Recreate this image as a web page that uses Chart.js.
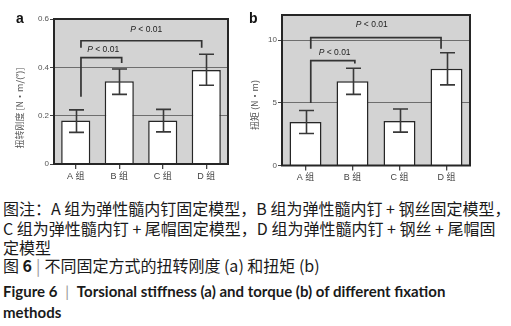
<!DOCTYPE html>
<html>
<head>
<meta charset="utf-8">
<script src="https://cdn.jsdelivr.net/npm/chart.js@4.4.1/dist/chart.umd.min.js"></script>
<style>
  body { margin: 0; width: 511px; height: 326px; background: #fff; position: relative; overflow: hidden; }
  #boxA { position: absolute; left: 0; top: 0; width: 250px; height: 190px; }
  #boxB { position: absolute; left: 250px; top: 0; width: 261px; height: 190px; }
  .tag { position: absolute; font: bold 14px "Liberation Sans", Arial, sans-serif; color: #111; line-height: 14px; }
  .cap { position: absolute; left: 3px; white-space: nowrap; color: #1a1a1a; line-height: 19px;
         font-family: "Noto Sans CJK SC", sans-serif; font-size: 16px; }
  .en { font-family: "Lato", "Liberation Sans", sans-serif; font-weight: bold; font-size: 15px; }
  .bar { color: #999; font-weight: normal; margin: 0 4px; }
</style>
</head>
<body>
<div id="boxA"><canvas id="chartA" width="250" height="190"></canvas></div>
<div id="boxB"><canvas id="chartB" width="261" height="190"></canvas></div>
<div class="tag" style="left:16px;top:11px">a</div>
<div class="tag" style="left:249px;top:11px">b</div>

<div class="cap" style="top:199px">图注：A 组为弹性髓内钉固定模型，B 组为弹性髓内钉 + 钢丝固定模型，</div>
<div class="cap" style="top:219px">C 组为弹性髓内钉 + 尾帽固定模型，D 组为弹性髓内钉 + 钢丝 + 尾帽固</div>
<div class="cap" style="top:238px">定模型</div>
<div class="cap" style="top:256px">图 <b>6</b><span class="bar">|</span>不同固定方式的扭转刚度 (a) 和扭矩 (b)</div>
<div class="cap en" style="top:282px">Figure 6<span class="bar">&nbsp;|&nbsp;</span>Torsional stiffness (a) and torque (b) of different fixation</div>
<div class="cap en" style="top:303px">methods</div>

<script>
const groups = ["A 组", "B 组", "C 组", "D 组"];

// panel a: torsional stiffness
const stiffMean = [0.18, 0.342, 0.18, 0.389];
const stiffLow = [0.131, 0.288, 0.133, 0.326];
const stiffHigh = [0.224, 0.393, 0.226, 0.454];
const stiffTicks = [0, 0.2, 0.4, 0.6];

// panel b: torque
const torqueMean = [3.46, 6.71, 3.54, 7.71];
const torqueLow = [2.55, 5.67, 2.66, 6.43];
const torqueHigh = [4.39, 7.76, 4.5, 8.99];
const torqueTicks = [0, 5, 10];

// significance brackets (category index / value units)
const stiffBrackets = [
  { x0: 0.12, x1: 1.056, top: 0.44, foot0: 0.278, foot1: 0.418, tx: 0.63, ty: 0.473, text: "< 0.01" },
  { x0: 0.12, x1: 2.895, top: 0.51, foot0: 0.481, foot1: 0.481, tx: 1.62, ty: 0.556, text: "< 0.01" },
];
const torqueBrackets = [
  { x0: 0.112, x1: 1.05, top: 8.37, foot0: 4.98, foot1: 8.13, tx: 0.62, ty: 8.99, text: "< 0.01" },
  { x0: 0.112, x1: 2.884, top: 10.19, foot0: 9.31, foot1: 9.31, tx: 1.41, ty: 11.2, text: "< 0.01" },
];

const decorPlugin = {
  id: "decor",
  beforeDraw(chart) {
    const { ctx, chartArea: a } = chart;
    ctx.save();
    ctx.fillStyle = "#d3d3d3";
    ctx.fillRect(a.left, a.top, a.right - a.left, a.bottom - a.top);
    ctx.restore();
  },
  afterDatasetsDraw(chart, args, opts) {
    const { ctx, chartArea: a } = chart;
    const xs = chart.scales.x;
    const ys = chart.scales.y;
    ctx.save();

    // error bars
    ctx.strokeStyle = "#383838";
    ctx.lineWidth = 1.6;
    opts.low.forEach((lo, i) => {
      const x = Math.round(xs.getPixelForValue(i)) + 0.5;
      const y0 = ys.getPixelForValue(lo);
      const y1 = ys.getPixelForValue(opts.high[i]);
      ctx.beginPath();
      ctx.moveTo(x, y0); ctx.lineTo(x, y1);
      ctx.moveTo(x - 7.5, y0); ctx.lineTo(x + 7.5, y0);
      ctx.moveTo(x - 7.5, y1); ctx.lineTo(x + 7.5, y1);
      ctx.stroke();
    });

    // brackets
    ctx.strokeStyle = "#333";
    ctx.lineWidth = 1.7;
    opts.brackets.forEach((b) => {
      const x0 = xs.getPixelForValue(b.x0);
      const x1 = xs.getPixelForValue(b.x1);
      ctx.beginPath();
      ctx.moveTo(x0, ys.getPixelForValue(b.foot0));
      ctx.lineTo(x0, ys.getPixelForValue(b.top));
      ctx.lineTo(x1, ys.getPixelForValue(b.top));
      ctx.lineTo(x1, ys.getPixelForValue(b.foot1));
      ctx.stroke();

      const tx = xs.getPixelForValue(b.tx);
      const ty = ys.getPixelForValue(b.ty);
      ctx.textBaseline = "middle";
      ctx.fillStyle = "#222";
      ctx.font = "italic 8.5px 'Liberation Sans', Arial, sans-serif";
      const wP = ctx.measureText("P").width;
      ctx.font = "8.5px 'Liberation Sans', Arial, sans-serif";
      const wT = ctx.measureText(" " + b.text).width;
      const start = tx - (wP + wT) / 2;
      ctx.textAlign = "left";
      ctx.font = "italic 8.5px 'Liberation Sans', Arial, sans-serif";
      ctx.fillText("P", start, ty);
      ctx.font = "8.5px 'Liberation Sans', Arial, sans-serif";
      ctx.fillText(" " + b.text, start + wP, ty);
    });

    // frame
    ctx.strokeStyle = "#262626";
    ctx.lineWidth = 2;
    ctx.strokeRect(a.left, a.top, a.right - a.left, a.bottom - a.top);

    // y title
    ctx.translate(opts.titleX, opts.titleY);
    ctx.rotate(-Math.PI / 2);
    ctx.textAlign = "center";
    ctx.textBaseline = "middle";
    ctx.fillStyle = "#555";
    ctx.font = "9px 'Noto Sans CJK SC', sans-serif";
    ctx.fillText(opts.title, 0, 0);
    ctx.restore();
  },
};

const makeChart = (id, means, low, high, ticks, max, brackets, geo) => {
  return new Chart(document.getElementById(id), {
    type: "bar",
    data: {
      labels: groups,
      datasets: [
        {
          data: means,
          backgroundColor: "#ffffff",
          borderColor: "#262626",
          borderWidth: 1.5,
          categoryPercentage: 1,
          barPercentage: geo.barPct,
        },
      ],
    },
    options: {
      responsive: false,
      animation: false,
      devicePixelRatio: 1,
      layout: { padding: { left: 0, right: geo.right, top: geo.top, bottom: 0 } },
      plugins: {
        legend: { display: false },
        tooltip: { enabled: false },
        decor: { low: low, high: high, brackets: brackets, title: geo.title, titleX: geo.titleX, titleY: geo.titleY },
      },
      scales: {
        x: {
          afterFit: (s) => { s.height = geo.xHeight; },
          border: { display: false },
          grid: { offset: false, drawOnChartArea: false, tickLength: 5, tickColor: "#444", lineWidth: 1.3 },
          ticks: { color: "#444", padding: 2, font: { size: 9, family: "'Liberation Sans', 'Noto Sans CJK SC', sans-serif" } },
        },
        y: {
          min: 0,
          max: max,
          afterFit: (s) => { s.width = geo.yWidth; },
          afterBuildTicks: (s) => { s.ticks = ticks.map((v) => ({ value: v })); },
          border: { display: false },
          grid: {
            color: (c) => (c.tick && c.tick.value > 0 && c.tick.value < max ? "#6e6e6e" : "rgba(0,0,0,0)"),
            tickColor: "#444",
            tickLength: 4,
            lineWidth: 1,
          },
          ticks: { color: "#555", padding: 1, font: { size: 8, family: "'Liberation Sans', Arial, sans-serif" } },
        },
      },
    },
    plugins: [decorPlugin],
  });
};

makeChart("chartA", stiffMean, stiffLow, stiffHigh, stiffTicks, 0.6, stiffBrackets, {
  barPct: 0.67, right: 22, top: 19, xHeight: 26, yWidth: 54,
  title: "扭转刚度 [N•m/(°)]", titleX: 20, titleY: 108,
});
makeChart("chartB", torqueMean, torqueLow, torqueHigh, torqueTicks, 12, torqueBrackets, {
  barPct: 0.68, right: 41, top: 15, xHeight: 24.5, yWidth: 32,
  title: "扭矩 (N•m)", titleX: 5, titleY: 105,
});
</script>
</body>
</html>
